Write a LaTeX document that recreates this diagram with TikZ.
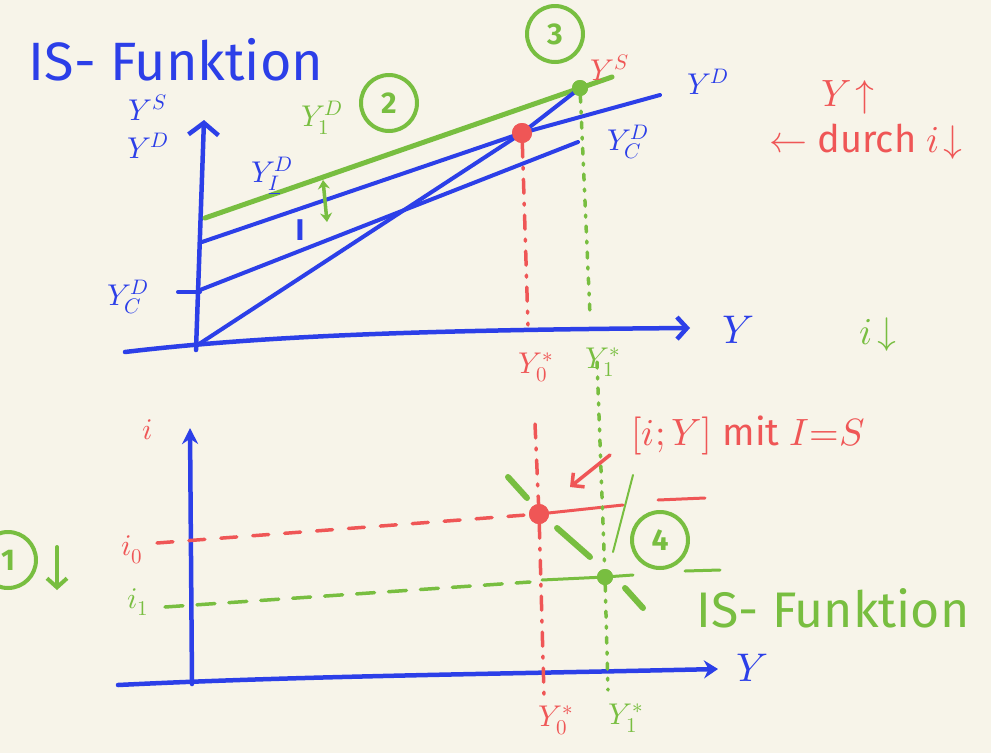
\documentclass[tikz,border=0pt]{standalone}
\usepackage{fontspec}
\usepackage{unicode-math}
\setmainfont{Fira Sans}
\setmathfont{Latin Modern Math}
\usetikzlibrary{arrows.meta}
\definecolor{bg}{HTML}{F7F4E9}
\definecolor{pb}{HTML}{2C3FE8}
\definecolor{pr}{HTML}{EF5656}
\definecolor{pg}{HTML}{78BE40}
\begin{document}
\begin{tikzpicture}[x=1pt,y=-1pt, line cap=round, line join=round,
 ax/.style={draw=pb, line width=4.5pt},
 bline/.style={draw=pb, line width=4pt},
 gline/.style={draw=pg, line width=5pt},
 rvd/.style={draw=pr, line width=3.5pt, dash pattern=on 14pt off 10pt on 2pt off 10pt},
 gvd/.style={draw=pg, line width=3.5pt, dash pattern=on 6pt off 9pt on 2pt off 9pt},
 rhd/.style={draw=pr, line width=3.5pt, dash pattern=on 16pt off 16pt},
 ghd/.style={draw=pg, line width=3.5pt, dash pattern=on 18pt off 14pt},
 isseg/.style={draw=pg, line width=6pt},
 lab/.style={inner sep=0pt, font=\fontsize{30}{32}\selectfont},
 mid/.style={inner sep=0pt, font=\fontsize{38}{40}\selectfont},
 big/.style={inner sep=0pt, font=\fontsize{40}{42}\selectfont},
 title/.style={inner sep=0pt, font=\fontsize{54}{56}\selectfont},
 circ/.style={draw=pg, line width=4pt, circle, minimum size=56pt, inner sep=0pt, text=pg, font=\fontsize{30}{30}\selectfont\bfseries},
 dot/.style={circle, inner sep=0pt, minimum size=#1},
]
\useasboundingbox (0,0) rectangle (991,753);
\clip (0,0) rectangle (991,753);
\fill[bg] (0,0) rectangle (991,753);

% ---------------- top plot ----------------
\coordinate (O1) at (196,346);
\coordinate (yT) at (204,120);
\coordinate (xL) at (125,352);
\coordinate (xR) at (690,328);
\draw[ax, -{Straight Barb[length=12pt,width=30pt]}] (196,350) -- (yT);
\draw[ax, -{Straight Barb[length=10pt,width=22pt]}] (xL) .. controls (260,336) and (420,330) .. (xR);

\coordinate (g0) at (205,218);
\coordinate (g1) at (612,77);
\coordinate (b0) at (202,242);
\coordinate (b1) at (660,95);
\coordinate (c0) at (200,290);
\coordinate (c1) at (578,142);
\node[dot=20pt, fill=pr] (R1) at (522,133) {};
\node[dot=16pt, fill=pg] (G1) at (580,88) {};

\draw[gline] (g0) -- (g1);
\draw[bline] (b0) -- (R1.center) -- (b1);
\draw[bline] (c0) -- (c1);
\draw[bline] (O1) -- (R1.center) -- (G1.center);
\node[dot=20pt, fill=pr] at (R1) {};
\node[dot=16pt, fill=pg] at (G1) {};
\draw[ax, line width=4pt] (178,292) -- (200,292);

\coordinate (R1b) at (528,325);
\coordinate (G1b) at (590,315);
\draw[rvd] (R1) -- (R1b);
\draw[gvd] (G1) -- (G1b);

% green double arrow
\coordinate (ga) at (323,180);
\coordinate (gb) at (327,222);
\draw[draw=pg, line width=3.5pt, {Stealth[length=9pt,width=12pt]}-{Stealth[length=9pt,width=12pt]}] (ga) -- (gb);

% labels top
\node[title, pb] (title) at (176,60) {IS- Funktion};
\node[lab, pb] (ys) at (148,108) {$Y^S$};
\node[lab, pb] (yd) at (148,146) {$Y^D$};
\node[lab, pb] (ydcL) at (128,297) {$Y^D_C$};
\node[lab, pb] (ydI) at (272,176) {$Y^D_{\underline{I}}$};
\node[lab, pb, font=\fontsize{30}{30}\selectfont\bfseries] (I) at (300,230) {I};
\node[lab, pg] (yd1) at (322,118) {$Y^D_1$};
\node[circ] (c2) at (389,103) {2};
\node[circ] (c3) at (555,34) {3};
\node[lab, pr] (ysR) at (610,68) {$Y^S$};
\node[lab, pb] (ydR) at (708,82) {$Y^D$};
\node[lab, pb] (ydcR) at (628,142) {$Y^D_C$};
\node[mid, pr] (yup) at (848,97) {$Y\!\uparrow$};
\node[mid, pr] (durch) at (866,142) {$\leftarrow$ durch $i\!\downarrow$};
\node[big, pb] (Ylab1) at (738,330) {$Y$};
\node[mid, pg] (idown) at (878,335) {$i\!\downarrow$};
\node[lab, pr] (y0a) at (536,367) {$Y_0^*$};
\node[lab, pg] (y1a) at (603,362) {$Y_1^*$};

% ---------------- bottom plot ----------------
\coordinate (O2) at (192,681);
\coordinate (yT2) at (190,428);
\coordinate (xL2) at (118,685);
\coordinate (xR2) at (718,669);
\draw[ax, -{Stealth[length=16pt,width=16pt]}] (192,684) -- (yT2);
\draw[ax, -{Stealth[length=14pt,width=18pt]}] (xL2) .. controls (300,676) and (500,674) .. (xR2);

\node[dot=20pt, fill=pr] (R2) at (539,514) {};
\node[dot=16pt, fill=pg] (G2) at (605,577) {};

% horizontal guides
\coordinate (rhL) at (157,543);
\coordinate (rhR) at (705,498);
\draw[rhd] (rhL) -- (R2.center);
\draw[draw=pr, line width=3pt] (R2.center) -- (623,505);
\draw[draw=pr, line width=3pt] (658,500) -- (rhR);
\coordinate (ghL) at (165,607);
\coordinate (ghR) at (720,570);
\draw[ghd] (ghL) -- (530,582);
\draw[draw=pg, line width=3pt] (542,580) -- (G2.center) -- (633,575);
\draw[draw=pg, line width=3pt] (685,571) -- (ghR);

% vertical guides
\coordinate (rvT) at (535,424);
\coordinate (rvB) at (544,695);
\coordinate (gvT) at (597,362);
\coordinate (gvB) at (608,690);
\draw[rvd] (rvT) -- (R2) ;
\draw[rvd] (R2) -- (rvB);
\draw[gvd] (gvT) -- (G2);
\draw[gvd] (G2) -- (gvB);

% IS curve strokes
\draw[isseg] (508,477) -- (527,498);
\draw[isseg] (557,528) -- (590,557);
\draw[isseg] (625,588) -- (643,608);
\draw[draw=pg, line width=2pt] (633,475) -- (613,552);

\node[dot=20pt, fill=pr] at (R2) {};
\node[dot=16pt, fill=pg] at (G2) {};

% labels bottom
\node[lab, pr] (ilab) at (148,430) {$i$};
\node[lab, pr] (i0) at (132,550) {$i_0$};
\node[lab, pg] (i1) at (138,602) {$i_1$};
\node[circ] (c1c) at (8,560) {1};
\coordinate (ga1) at (57,547);
\coordinate (gb1) at (57,590);
\draw[draw=pg, line width=4pt, -{Straight Barb[length=9pt,width=20pt]}] (ga1) -- (gb1);
\node[circ] (c4) at (660,540) {4};
\node[mid, pr] (eq) at (748,435) {$[i;Y]$ mit $I{=}S$};
\coordinate (ra) at (610,455);
\coordinate (rb) at (570,487);
\draw[draw=pr, line width=3.5pt, -{Straight Barb[length=9pt,width=18pt]}] (ra) -- (rb);
\node[inner sep=0pt, font=\fontsize{50}{52}\selectfont, pg] (is2) at (833,608) {IS- Funktion};
\node[big, pb] (Ylab2) at (752,668) {$Y$};
\node[lab, pr] (y0b) at (556,720) {$Y_0^*$};
\node[lab, pg] (y1b) at (626,718) {$Y_1^*$};
\end{tikzpicture}
\end{document}
